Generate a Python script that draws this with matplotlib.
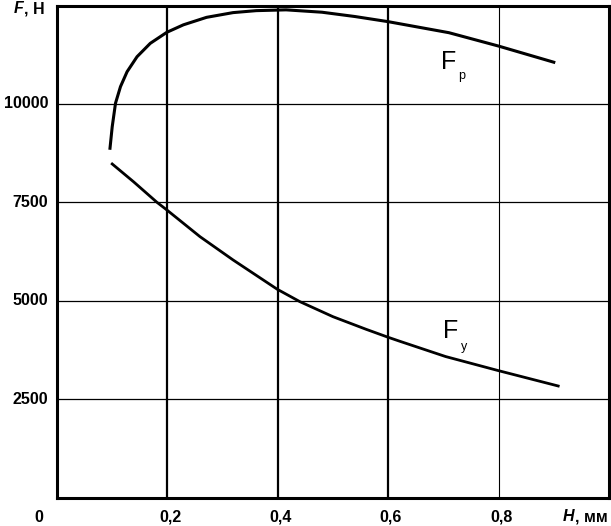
import matplotlib.pyplot as plt

plt.rcParams['font.family'] = ['Liberation Sans', 'DejaVu Sans']

# Fp curve
fp_h = [0.096, 0.100, 0.106, 0.115, 0.127, 0.145, 0.169, 0.199, 0.229, 0.271, 0.319,
        0.361, 0.415, 0.480, 0.540, 0.600, 0.710, 0.800, 0.900]
fp_f = [8875, 9420, 10020, 10440, 10820, 11200, 11540, 11820, 12010, 12200, 12320,
        12370, 12390, 12330, 12220, 12090, 11810, 11470, 11060]

# Fy curve
fy_h = [0.100, 0.139, 0.181, 0.199, 0.259, 0.319, 0.399, 0.440, 0.500, 0.560, 0.600,
        0.620, 0.704, 0.800, 0.908]
fy_f = [8476, 8020, 7503, 7308, 6630, 6038, 5294, 4979, 4597, 4277, 4074,
        3978, 3585, 3226, 2837]

x_ticks = [0.2, 0.4, 0.6, 0.8]
x_labels = ['0,2', '0,4', '0,6', '0,8']
y_ticks = [2500, 5000, 7500, 10000]

fig = plt.figure(figsize=(6.11, 5.26), dpi=100)
ax = fig.add_axes([0.0933, 0.0538, 0.9034, 0.9357])
ax.set_xlim(0, 1.0)
ax.set_ylim(0, 12500)

# grid: thick vertical lines except 0.8, thin horizontals
for xv in x_ticks:
    ax.axvline(xv, color='black', lw=1.6 if xv < 0.7 else 0.8, zorder=1)
for yv in y_ticks:
    ax.axhline(yv, color='black', lw=0.9, zorder=1)

ax.plot(fp_h, fp_f, color='black', lw=2.2, zorder=3, solid_joinstyle='round')
ax.plot(fy_h, fy_f, color='black', lw=2.0, zorder=3, solid_joinstyle='round')

for s in ax.spines.values():
    s.set_linewidth(2.2)

ax.set_xticks([])
ax.set_yticks([])

# tick labels as text
for xv, lab in zip(x_ticks, x_labels):
    ax.text(xv + 0.005, -0.04, lab, transform=ax.get_xaxis_transform(),
            ha='center', va='center', fontsize=11.5, fontweight='bold')
ax.text(-0.033, -0.04, '0', transform=ax.transAxes,
        ha='center', va='center', fontsize=11.5, fontweight='bold')
for yv in y_ticks:
    ax.text(-0.016, yv, str(yv), transform=ax.get_yaxis_transform(),
            ha='right', va='center', fontsize=11.5, fontweight='bold')

# axis titles
fig.text(0.921, 0.0175, 'H', ha='left', va='center', fontsize=11.5,
         fontweight='bold', style='italic')
fig.text(0.941, 0.0175, ', мм', ha='left', va='center', fontsize=11.5,
         fontweight='bold')
fig.text(0.022, 0.998, 'F', ha='left', va='top', fontsize=11.5,
         fontweight='bold', style='italic')
fig.text(0.040, 0.998, ', Н', ha='left', va='top', fontsize=11.5,
         fontweight='bold')

# curve labels
ax.text(0.695, 11070, 'F', fontsize=18, ha='left', va='center')
ax.text(0.727, 10700, 'р', fontsize=9, ha='left', va='center')
ax.text(0.700, 4230, 'F', fontsize=18, ha='left', va='center')
ax.text(0.732, 3840, 'у', fontsize=9, ha='left', va='center')

fig.savefig('out.png', dpi=100)
